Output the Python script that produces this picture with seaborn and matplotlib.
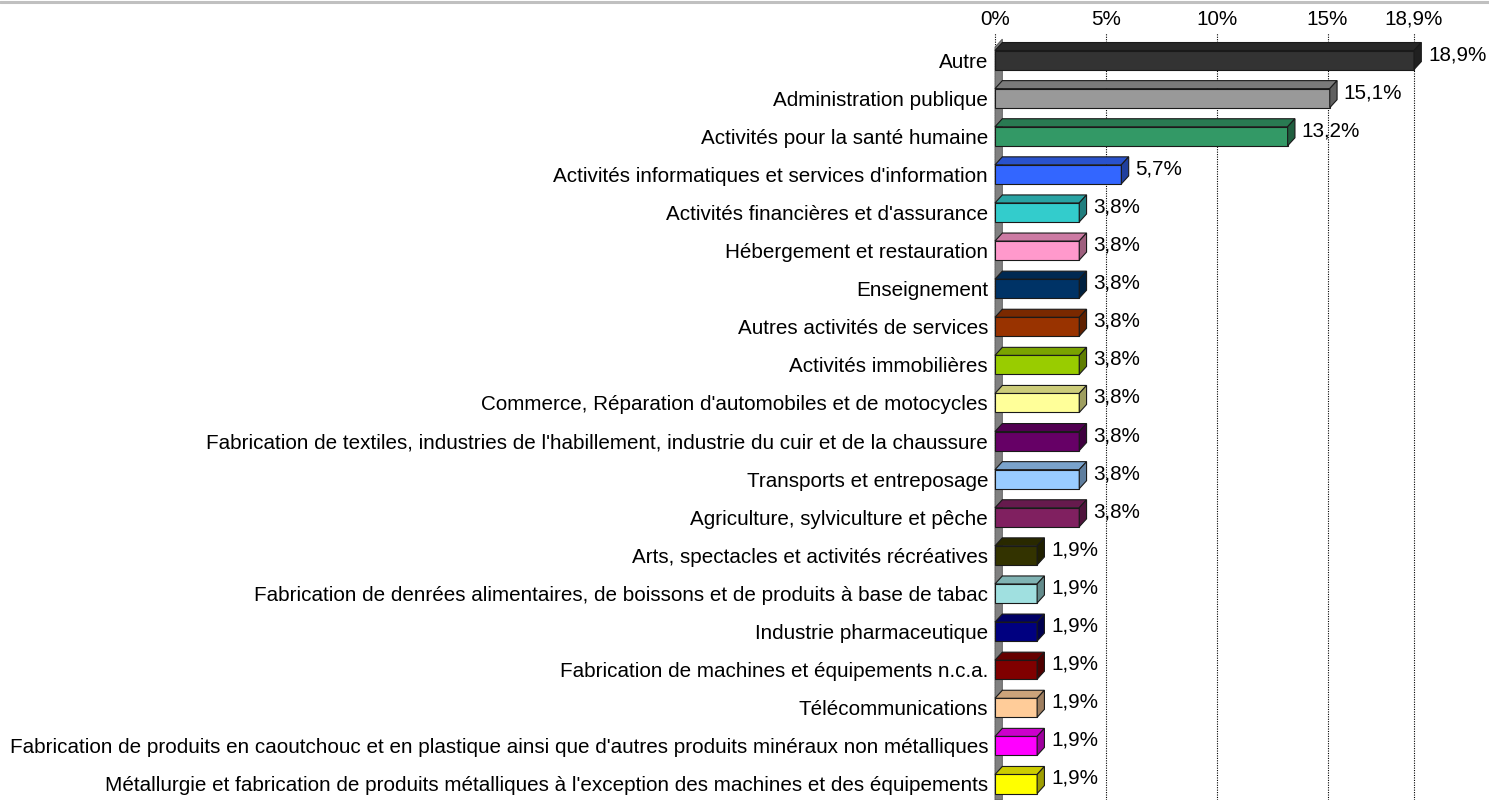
import matplotlib
matplotlib.use("Agg")
import matplotlib.pyplot as plt
import matplotlib.colors as mcolors
from matplotlib.patches import Polygon
import seaborn as sns
import pandas as pd

categories = [
    "Autre",
    "Administration publique",
    "Activités pour la santé humaine",
    "Activités informatiques et services d'information",
    "Activités financières et d'assurance",
    "Hébergement et restauration",
    "Enseignement",
    "Autres activités de services",
    "Activités immobilières",
    "Commerce, Réparation d'automobiles et de motocycles",
    "Fabrication de textiles, industries de l'habillement, industrie du cuir et de la chaussure",
    "Transports et entreposage",
    "Agriculture, sylviculture et pêche",
    "Arts, spectacles et activités récréatives",
    "Fabrication de denrées alimentaires, de boissons et de produits à base de tabac",
    "Industrie pharmaceutique",
    "Fabrication de machines et équipements n.c.a.",
    "Télécommunications",
    "Fabrication de produits en caoutchouc et en plastique ainsi que d'autres produits minéraux non métalliques",
    "Métallurgie et fabrication de produits métalliques à l'exception des machines et des équipements",
]
values = [18.9, 15.1, 13.2, 5.7, 3.8, 3.8, 3.8, 3.8, 3.8, 3.8, 3.8, 3.8, 3.8,
          1.9, 1.9, 1.9, 1.9, 1.9, 1.9, 1.9]
colors = [
    "#333333", "#999999", "#339966", "#3366FF", "#33CCCC", "#FF99CC",
    "#003366", "#993300", "#99CC00", "#FFFF99", "#660066", "#99CCFF",
    "#802060", "#333300", "#A0E0E0", "#000080", "#800000", "#FFCC99",
    "#FF00FF", "#FFFF00",
]
tick_values = [0, 5, 10, 15, 18.9]
tick_labels = ["0%", "5%", "10%", "15%", "18,9%"]

sns.set_theme(style="white")
plt.rcParams["font.family"] = ["Liberation Sans", "DejaVu Sans"]
FS = 14.9

W, H = 1489, 800
fig = plt.figure(figsize=(W / 100, H / 100), dpi=100)
ax_left, ax_right = 995 / W, 1414 / W
ax_top, ax_bot = 1 - 33 / H, 0.0
ax = fig.add_axes([ax_left, ax_bot, ax_right - ax_left, ax_top - ax_bot])

df = pd.DataFrame({"cat": categories, "val": values})
sns.barplot(data=df, y="cat", x="val", hue="cat", palette=colors, legend=False,
            orient="h", width=0.5, saturation=1, ax=ax, edgecolor="#1a1a1a",
            linewidth=0.8, zorder=3)

ax.set_xlim(0, 18.9)
ax.set_ylim(19.42, -0.71)

# 3D depth (in data units)
dx = 0.33
dy = 0.21


def shade(c, f):
    r, g, b = mcolors.to_rgb(c)
    return (r * f, g * f, b * f)


# back wall
ylo, yhi = ax.get_ylim()
wall = Polygon([(0, ylo), (0, -0.34), (dx, -0.34 - dy), (dx, ylo)], closed=True,
               facecolor="#808080", edgecolor="#555555", linewidth=0.6,
               zorder=1.5, clip_on=False)
ax.add_patch(wall)

for p, v, c in zip(ax.patches[:len(values)], values, colors):
    x0 = p.get_x()
    w = p.get_width()
    x1 = x0 + w
    y0 = p.get_y()
    h = p.get_height()
    yt = y0  # top edge (inverted axis)
    yb = y0 + h
    top = Polygon([(x0, yt), (x0 + dx, yt - dy), (x1 + dx, yt - dy), (x1, yt)],
                  closed=True, facecolor=shade(c, 0.8), edgecolor="#1a1a1a",
                  linewidth=0.8, zorder=3, clip_on=False)
    side = Polygon([(x1, yt), (x1 + dx, yt - dy), (x1 + dx, yb - dy), (x1, yb)],
                   closed=True, facecolor=shade(c, 0.62), edgecolor="#1a1a1a",
                   linewidth=0.8, zorder=3, clip_on=False)
    ax.add_patch(top)
    ax.add_patch(side)
    p.set_clip_on(False)
    label = f"{v:.1f}%".replace(".", ",")
    ax.text(x1 + dx + 0.3, y0 + h / 2 - dy / 2 - 0.04, label, ha="left",
            va="center", fontsize=FS, color="black", zorder=5, clip_on=False)

# axis on top
ax.xaxis.tick_top()
ax.set_xticks(tick_values)
ax.set_xticklabels(tick_labels, fontsize=FS)
ax.tick_params(axis="x", length=0, pad=3)
ax.tick_params(axis="y", length=0, pad=5, labelsize=FS)
for t in ax.get_yticklabels():
    t.set_color("black")
for t in ax.get_xticklabels():
    t.set_color("black")
ax.set_xlabel("")
ax.set_ylabel("")
for s in ax.spines.values():
    s.set_visible(False)
for xv in tick_values:
    ax.axvline(xv, color="black", linestyle=(0, (1, 1.2)), linewidth=0.8,
               zorder=1, clip_on=False)

# top gray border line
fig.add_artist(plt.Line2D([0, 1], [1 - 1.5 / H, 1 - 1.5 / H],
                          transform=fig.transFigure, color="#C0C0C0",
                          linewidth=2.2))

fig.savefig("out.png", dpi=100)
